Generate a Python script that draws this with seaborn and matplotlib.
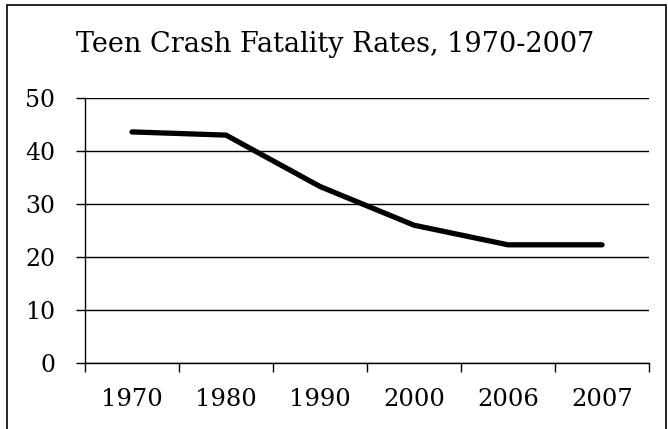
import matplotlib
matplotlib.use("Agg")
import matplotlib.pyplot as plt
from matplotlib.patches import Rectangle
import seaborn as sns
import pandas as pd

years = ["1970", "1980", "1990", "2000", "2006", "2007"]
rates = [43.6, 43.0, 33.3, 26.0, 22.3, 22.3]
y_ticks = [0, 10, 20, 30, 40, 50]

df = pd.DataFrame({"year": years, "rate": rates})

sns.set_style("white")
plt.rcParams["font.family"] = ["DejaVu Serif"]
plt.rcParams["text.color"] = "black"
plt.rcParams["xtick.color"] = "black"
plt.rcParams["ytick.color"] = "black"

fig = plt.figure(figsize=(6.68, 4.29), dpi=100)
ax = fig.add_axes([85 / 668, 1 - 363 / 429, 564 / 668, 265 / 429])

sns.lineplot(data=df, x="year", y="rate", ax=ax, color="black",
             linewidth=3.8, solid_capstyle="round", sort=False)

ax.set_xlim(-0.5, 5.5)
ax.set_ylim(0, 50)
ax.set_yticks(y_ticks)
ax.yaxis.grid(True, color="black", linewidth=1.0)
ax.set_axisbelow(True)
ax.set_xlabel("")
ax.set_ylabel("")

for side in ["top", "right"]:
    ax.spines[side].set_visible(False)
for side in ["left", "bottom"]:
    ax.spines[side].set_color("black")
    ax.spines[side].set_linewidth(1.0)

ax.tick_params(axis="y", direction="out", length=6.5, width=1.0,
               color="black", labelcolor="black", pad=15, labelsize=17,
               left=True)
ax.tick_params(axis="x", which="major", length=0, pad=18, labelsize=17.5,
               labelcolor="black")
ax.set_xticks([i - 0.5 for i in range(len(years) + 1)], minor=True)
ax.tick_params(axis="x", which="minor", direction="out", length=6.5,
               width=1.0, color="black", bottom=True)

fig.text(335 / 668, 1 - 45 / 429, "Teen Crash Fatality Rates, 1970-2007",
         ha="center", va="center", fontsize=19.5, color="black")

fig.patches.append(Rectangle((7 / 668, -0.05), 659 / 668, 1.05 - 5 / 429,
                             transform=fig.transFigure, fill=False,
                             edgecolor="black", linewidth=1.2))

fig.savefig("out.png", dpi=100)
